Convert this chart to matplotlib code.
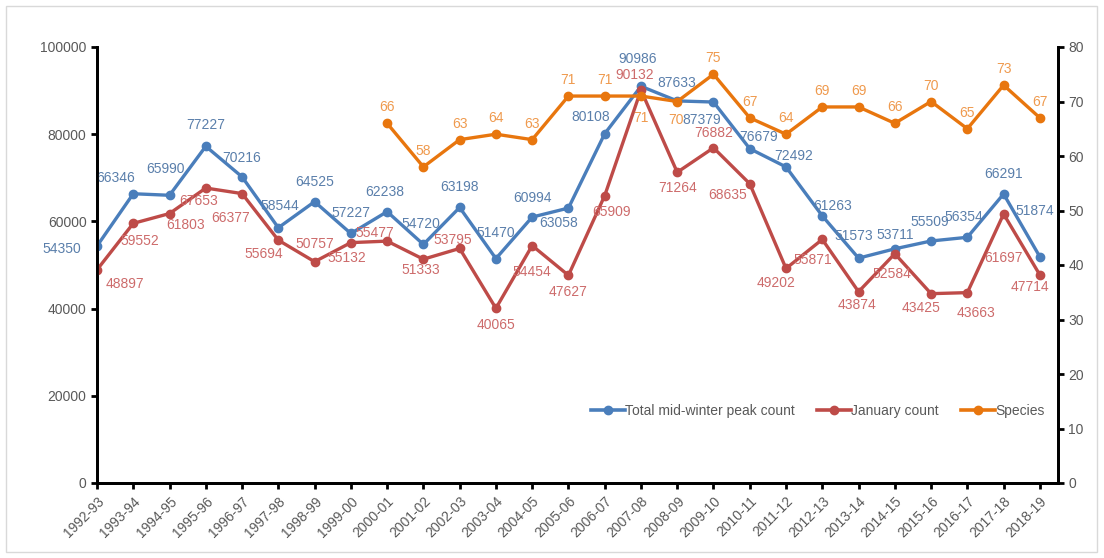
import matplotlib.pyplot as plt
from matplotlib.lines import Line2D
from matplotlib.patches import Rectangle

plt.rcParams.update({
    "font.family": "sans-serif",
    "font.sans-serif": ["Liberation Sans", "DejaVu Sans"],
    "font.size": 10,
})

# ---------------------------------------------------------
# Data
# ---------------------------------------------------------

seasons = ["1992-93", "1993-94", "1994-95", "1995-96", "1996-97", "1997-98",
           "1998-99", "1999-00", "2000-01", "2001-02", "2002-03", "2003-04",
           "2004-05", "2005-06", "2006-07", "2007-08", "2008-09", "2009-10",
           "2010-11", "2011-12", "2012-13", "2013-14", "2014-15", "2015-16",
           "2016-17", "2017-18", "2018-19"]

total_peak = [54350, 66346, 65990, 77227, 70216, 58544, 64525, 57227, 62238,
              54720, 63198, 51470, 60994, 63058, 80108, 90986, 87633, 87379,
              76679, 72492, 61263, 51573, 53711, 55509, 56354, 66291, 51874]

january = [48897, 59552, 61803, 67653, 66377, 55694, 50757, 55132, 55477,
           51333, 53795, 40065, 54454, 47627, 65909, 90132, 71264, 76882,
           68635, 49202, 55871, 43874, 52584, 43425, 43663, 61697, 47714]

species_start = 8   # species counted from 2000-01
species = [66, 58, 63, 64, 63, 71, 71, 71, 70, 75, 67, 64, 69, 69, 66, 70,
           65, 73, 67]

# label offsets in pixels (dx, dy), as placed in the original chart
off_total = [(-35, -3), (-18, 16), (-4, 26), (0, 21), (0, 19), (1, 22),
             (0, 20), (0, 20), (-2, 20), (-3, 20), (0, 20), (0, 26),
             (0, 19), (-10, -15), (-14, 17), (-3, 27), (0, 18), (-12, -18),
             (9, 12), (8, 11), (10, 10), (-5, 22), (0, 14), (-1, 19),
             (-4, 20), (0, 20), (-5, 46)]

off_jan = [(28, -14), (7, -18), (16, -11), (-7, -13), (-11, -24), (-15, -14),
           (0, 18), (-4, -15), (-12, 8), (-3, -11), (-7, 8), (0, -17),
           (0, -26), (0, -17), (7, -16), (-6, 15), (0, -16), (0, 15),
           (-22, -11), (-10, -15), (-10, -21), (-2, -13), (-3, -20), (-10, -14),
           (9, -20), (0, -44), (-10, -12)]

off_sp = [(0, 16)] * 7 + [(0, -22), (-1, -18)] + [(0, 16)] * 10

# ---------------------------------------------------------
# Colours
# ---------------------------------------------------------

c_total, c_jan, c_sp = "#4a7ebb", "#be4b48", "#e8760e"
c_total_lab, c_jan_lab, c_sp_lab = "#5a7fab", "#cd6b6b", "#ef9a4e"
grey = "#595959"

# ---------------------------------------------------------
# Figure
# ---------------------------------------------------------

fig = plt.figure(figsize=(11.04, 5.58), dpi=100)
ax = fig.add_axes([97 / 1104, 1 - 483 / 558, (1058 - 97) / 1104, (483 - 47) / 558])
ax2 = ax.twinx()

fig.patches.append(Rectangle((6 / 1104, 6 / 558), 1091 / 1104, 546 / 558,
                             transform=fig.transFigure, fill=False,
                             edgecolor="#d9d9d9", linewidth=1))

x = list(range(len(seasons)))
x_sp = x[species_start:]

line_kw = dict(lw=2.4, marker="o", markersize=6, solid_joinstyle="round")
ax.plot(x, total_peak, color=c_total, zorder=3, **line_kw)
ax.plot(x, january, color=c_jan, zorder=3, **line_kw)
ax2.plot(x_sp, species, color=c_sp, zorder=3, **line_kw)

for xi, v, o in zip(x, total_peak, off_total):
    ax.annotate(str(v), (xi, v), xytext=o, textcoords="offset pixels",
                ha="center", va="center", color=c_total_lab, fontsize=10)
for xi, v, o in zip(x, january, off_jan):
    ax.annotate(str(v), (xi, v), xytext=o, textcoords="offset pixels",
                ha="center", va="center", color=c_jan_lab, fontsize=10)
for xi, v, o in zip(x_sp, species, off_sp):
    ax2.annotate(str(v), (xi, v), xytext=o, textcoords="offset pixels",
                 ha="center", va="center", color=c_sp_lab, fontsize=10)

# ---------------------------------------------------------
# Axes, formatting
# ---------------------------------------------------------

ax.set_xlim(0, len(seasons) - 0.5)
ax.set_ylim(0, 100000)
ax2.set_ylim(0, 80)
ax.set_yticks(range(0, 100001, 20000))
ax2.set_yticks(range(0, 81, 10))
ax.set_xticks(x)
ax.set_xticklabels(seasons, rotation=45, ha="right", rotation_mode="anchor")

for a in (ax, ax2):
    a.spines["top"].set_visible(False)
    for s in ("left", "right", "bottom"):
        a.spines[s].set_linewidth(2)
        a.spines[s].set_color("black")
    a.tick_params(colors="black", labelcolor=grey, width=2, length=4,
                  labelsize=10)
ax.tick_params(axis="x", pad=4)

handles = [
    Line2D([], [], color=c_total, lw=2.6, marker="o", markersize=6),
    Line2D([], [], color=c_jan, lw=2.6, marker="o", markersize=6),
    Line2D([], [], color=c_sp, lw=2.6, marker="o", markersize=6),
]
leg = ax2.legend(handles, ["Total mid-winter peak count", "January count", "Species"],
                 loc="center", bbox_to_anchor=((818 - 97) / 961, 1 - (411 - 47) / 436),
                 ncol=3, frameon=False, fontsize=10, handlelength=2.4,
                 handletextpad=0.05, columnspacing=1.6)
for t in leg.get_texts():
    t.set_color(grey)

plt.savefig("out.png", dpi=100)
plt.close()
